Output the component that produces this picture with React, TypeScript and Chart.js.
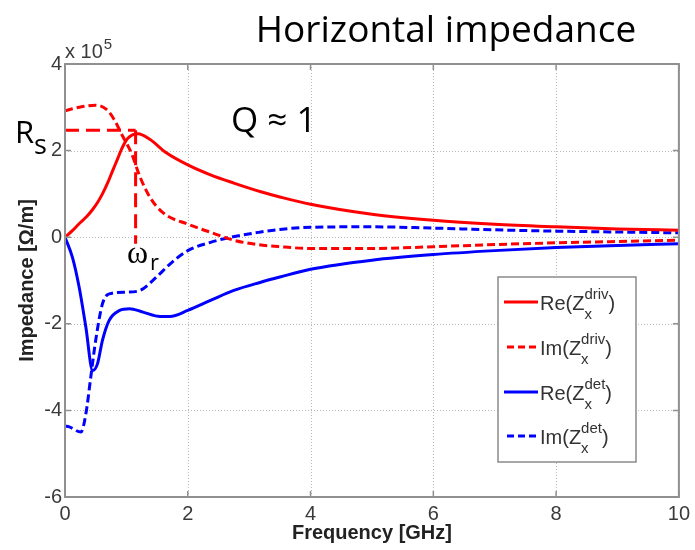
import React, { useEffect, useRef } from "react";
import { Chart, registerables } from "chart.js";

Chart.register(...registerables);

// ---- data (values in units of 1e5 Ω/m, frequency in GHz) ----
const X_TICKS = [0, 2, 4, 6, 8, 10];
const Y_TICKS = [-6, -4, -2, 0, 2, 4];

const RE_DRIV_F = [0, 0.12, 0.23, 0.35, 0.45, 0.53, 0.61, 0.7, 0.78, 0.86, 0.92, 1.02, 1.19, 1.38, 1.65, 2.0, 2.37, 2.75, 3.19, 3.5, 4, 5, 6, 7, 8, 9, 10];
const RE_DRIV = [0, 0.15, 0.31, 0.47, 0.64, 0.8, 1.0, 1.27, 1.55, 1.82, 2.03, 2.28, 2.39, 2.26, 1.95, 1.67, 1.44, 1.25, 1.05, 0.93, 0.76, 0.53, 0.39, 0.3, 0.24, 0.19, 0.16];

const IM_DRIV_F = [0, 0.23, 0.5, 0.67, 0.8, 0.94, 1.08, 1.22, 1.38, 1.6, 2.0, 2.42, 2.75, 3.13, 3.5, 4, 5, 6, 7, 8, 9, 10];
const IM_DRIV = [2.92, 3.0, 3.05, 2.96, 2.72, 2.33, 1.95, 1.4, 0.93, 0.56, 0.3, 0.09, -0.07, -0.17, -0.22, -0.26, -0.26, -0.22, -0.17, -0.13, -0.1, -0.07];

const RE_DET_F = [0, 0.12, 0.23, 0.34, 0.45, 0.53, 0.61, 0.72, 0.89, 1.05, 1.27, 1.55, 1.71, 2.0, 2.37, 2.75, 3.19, 3.5, 4, 5, 6, 7, 8, 9, 10];
const RE_DET = [0, -0.46, -1.15, -2.08, -3.08, -2.92, -2.38, -1.92, -1.69, -1.65, -1.73, -1.83, -1.83, -1.69, -1.46, -1.23, -1.04, -0.92, -0.74, -0.53, -0.4, -0.31, -0.24, -0.19, -0.15];

const IM_DET_F = [0, 0.07, 0.26, 0.34, 0.42, 0.5, 0.61, 0.72, 1.0, 1.22, 1.49, 1.71, 2.0, 2.37, 2.7, 3.19, 3.5, 4, 5, 6, 7, 8, 9, 10];
const IM_DET = [-4.36, -4.38, -4.5, -4.08, -3.23, -2.38, -1.54, -1.31, -1.27, -1.23, -0.92, -0.62, -0.31, -0.12, 0, 0.12, 0.18, 0.23, 0.24, 0.21, 0.17, 0.14, 0.12, 0.1];

// annotation guides: R_s level and resonance frequency ω_r
const RS_LINE_F = [0, 1.15];
const RS_LINE = [2.47, 2.47];
const WR_LINE_F = [1.15, 1.15];
const WR_LINE = [2.47, -0.15];

const LEGEND_MAIN = ["Re(Z", "Im(Z", "Re(Z", "Im(Z"];
const LEGEND_SUP = ["driv", "driv", "det", "det"];

const TITLE = "Horizontal impedance";
const X_TITLE = "Frequency [GHz]";
const Y_TITLE = "Impedance [Ω/m]";

const RED = "#ff0000";
const BLUE = "#0000ff";
const SANS = "'Liberation Sans', Arial, sans-serif";
const CAL = "'Open Sans', 'Noto Sans', sans-serif";
const SERIF = "'Liberation Serif', 'DejaVu Serif', serif";

const pts = (f: number[], v: number[]) => f.map((x, i) => ({ x, y: v[i] }));

const decor = {
  id: "decor",
  beforeDatasetsDraw(chart: any) {
    const { ctx, chartArea: a, scales } = chart;
    ctx.save();
    ctx.fillStyle = "#ffffff";
    ctx.fillRect(a.left, a.top, a.right - a.left, a.bottom - a.top);
    ctx.strokeStyle = "#b8b8b8";
    ctx.lineWidth = 1;
    ctx.setLineDash([1, 2]);
    X_TICKS.forEach((v) => {
      const px = Math.round(scales.x.getPixelForValue(v)) + 0.5;
      ctx.beginPath();
      ctx.moveTo(px, a.top);
      ctx.lineTo(px, a.bottom);
      ctx.stroke();
    });
    Y_TICKS.forEach((v) => {
      const py = Math.round(scales.y.getPixelForValue(v)) + 0.5;
      ctx.beginPath();
      ctx.moveTo(a.left, py);
      ctx.lineTo(a.right, py);
      ctx.stroke();
    });
    ctx.restore();
  },
  afterDatasetsDraw(chart: any) {
    const { ctx, chartArea: a, scales } = chart;
    ctx.save();
    // axes box
    ctx.strokeStyle = "#909090";
    ctx.lineWidth = 2;
    ctx.setLineDash([]);
    ctx.strokeRect(a.left, a.top, a.right - a.left, a.bottom - a.top);
    // inward tick marks
    ctx.lineWidth = 1.5;
    const tl = 6;
    X_TICKS.forEach((v) => {
      const px = scales.x.getPixelForValue(v);
      ctx.beginPath();
      ctx.moveTo(px, a.bottom);
      ctx.lineTo(px, a.bottom - tl);
      ctx.moveTo(px, a.top);
      ctx.lineTo(px, a.top + tl);
      ctx.stroke();
    });
    Y_TICKS.forEach((v) => {
      const py = scales.y.getPixelForValue(v);
      ctx.beginPath();
      ctx.moveTo(a.left, py);
      ctx.lineTo(a.left + tl, py);
      ctx.moveTo(a.right, py);
      ctx.lineTo(a.right - tl, py);
      ctx.stroke();
    });

    // legend
    const lx = 498, ly = 277, lw = 138, lh = 185;
    ctx.fillStyle = "#ffffff";
    ctx.fillRect(lx, ly, lw, lh);
    ctx.strokeStyle = "#8a8a8a";
    ctx.lineWidth = 1.5;
    ctx.strokeRect(lx, ly, lw, lh);
    const rows = [302, 347, 392, 436];
    const colors = [RED, RED, BLUE, BLUE];
    const dashed = [false, true, false, true];
    rows.forEach((ry, i) => {
      ctx.strokeStyle = colors[i];
      ctx.lineWidth = 3;
      ctx.setLineDash(dashed[i] ? [7, 4] : []);
      ctx.beginPath();
      ctx.moveTo(dashed[i] ? 507 : 504, ry);
      ctx.lineTo(538, ry);
      ctx.stroke();
      ctx.setLineDash([]);
      ctx.fillStyle = "#333333";
      ctx.textAlign = "left";
      ctx.textBaseline = "alphabetic";
      const tx = 540, by = ry + 8;
      ctx.font = `20px ${SANS}`;
      ctx.fillText(LEGEND_MAIN[i], tx, by);
      const w = ctx.measureText(LEGEND_MAIN[i]).width;
      ctx.font = `15px ${SANS}`;
      ctx.fillText("x", tx + w, by + 9);
      const sw = ctx.measureText("x").width;
      ctx.fillText(LEGEND_SUP[i], tx + w, by - 11);
      const pw = ctx.measureText(LEGEND_SUP[i]).width;
      ctx.font = `20px ${SANS}`;
      ctx.fillText(")", tx + w + Math.max(sw, pw), by);
    });

    // title and annotations
    ctx.fillStyle = "#000000";
    ctx.textBaseline = "alphabetic";
    ctx.font = `37px ${CAL}`;
    ctx.textAlign = "center";
    ctx.fillText(TITLE, 446, 42);
    ctx.textAlign = "left";
    ctx.font = `35px ${CAL}`;
    ctx.fillText("Q ≈ 1", 231, 132);
    ctx.font = `31px ${CAL}`;
    ctx.fillText("R", 15, 143);
    ctx.font = `27px ${CAL}`;
    ctx.fillText("s", 34, 154);
    ctx.font = `32px ${SERIF}`;
    ctx.fillText("ω", 127, 263);
    ctx.font = `22px ${CAL}`;
    ctx.fillText("r", 150, 270);

    // exponent label
    ctx.fillStyle = "#3a3a3a";
    ctx.font = `20px ${SANS}`;
    ctx.fillText("x 10", 65, 58);
    const ew = ctx.measureText("x 10").width;
    ctx.font = `15px ${SANS}`;
    ctx.fillText("5", 65 + ew + 1, 49);

    // axis titles
    ctx.fillStyle = "#222222";
    ctx.font = `bold 20px ${SANS}`;
    ctx.textAlign = "center";
    ctx.fillText(X_TITLE, (a.left + a.right) / 2, 539);
    ctx.save();
    ctx.translate(33, (a.top + a.bottom) / 2);
    ctx.rotate(-Math.PI / 2);
    ctx.fillText(Y_TITLE, 0, 0);
    ctx.restore();
    ctx.restore();
  },
};

export default function App() {
  const ref = useRef<HTMLCanvasElement>(null);
  useEffect(() => {
    if (!ref.current) return;
    const line = (data: any, color: string, dash: number[], label: string) => ({
      label,
      data,
      borderColor: color,
      backgroundColor: color,
      borderWidth: 3,
      borderDash: dash,
      pointRadius: 0,
      fill: false,
      cubicInterpolationMode: "monotone" as const,
    });
    const chart = new Chart(ref.current, {
      type: "line",
      data: {
        datasets: [
          line(pts(RE_DRIV_F, RE_DRIV), RED, [], "Re(Z_x^driv)"),
          line(pts(IM_DRIV_F, IM_DRIV), RED, [8, 4], "Im(Z_x^driv)"),
          line(pts(RE_DET_F, RE_DET), BLUE, [], "Re(Z_x^det)"),
          line(pts(IM_DET_F, IM_DET), BLUE, [8, 4], "Im(Z_x^det)"),
          { ...line(pts(RS_LINE_F, RS_LINE), RED, [14, 7], "Rs"), cubicInterpolationMode: "default" as const, tension: 0 },
          { ...line(pts(WR_LINE_F, WR_LINE), RED, [14, 7], "wr"), cubicInterpolationMode: "default" as const, tension: 0 },
        ],
      },
      options: {
        responsive: false,
        animation: false,
        events: [],
        layout: { padding: { top: 64, right: 13, left: 0, bottom: 0 } },
        plugins: { legend: { display: false }, tooltip: { enabled: false }, title: { display: false } },
        scales: {
          x: {
            type: "linear",
            min: 0,
            max: 10,
            afterBuildTicks: (s: any) => {
              s.ticks = X_TICKS.map((v) => ({ value: v }));
            },
            afterFit: (s: any) => {
              s.height = 53;
            },
            grid: { display: false, drawTicks: false },
            border: { display: false },
            ticks: {
              font: { family: SANS, size: 20 },
              color: "#3a3a3a",
              padding: 5,
              maxRotation: 0,
              autoSkip: false,
            },
          },
          y: {
            type: "linear",
            min: -6,
            max: 4,
            afterBuildTicks: (s: any) => {
              s.ticks = Y_TICKS.map((v) => ({ value: v }));
            },
            afterFit: (s: any) => {
              s.width = 65;
            },
            grid: { display: false, drawTicks: false },
            border: { display: false },
            ticks: {
              font: { family: SANS, size: 20 },
              color: "#3a3a3a",
              padding: 3,
              autoSkip: false,
            },
          },
        },
      },
      plugins: [decor],
    });
    return () => chart.destroy();
  }, []);
  return (
    <div style={{ position: "absolute", left: 0, top: 0, width: 695, height: 550, background: "#fff" }}>
      <canvas ref={ref} width={695} height={550} style={{ display: "block" }} />
    </div>
  );
}
